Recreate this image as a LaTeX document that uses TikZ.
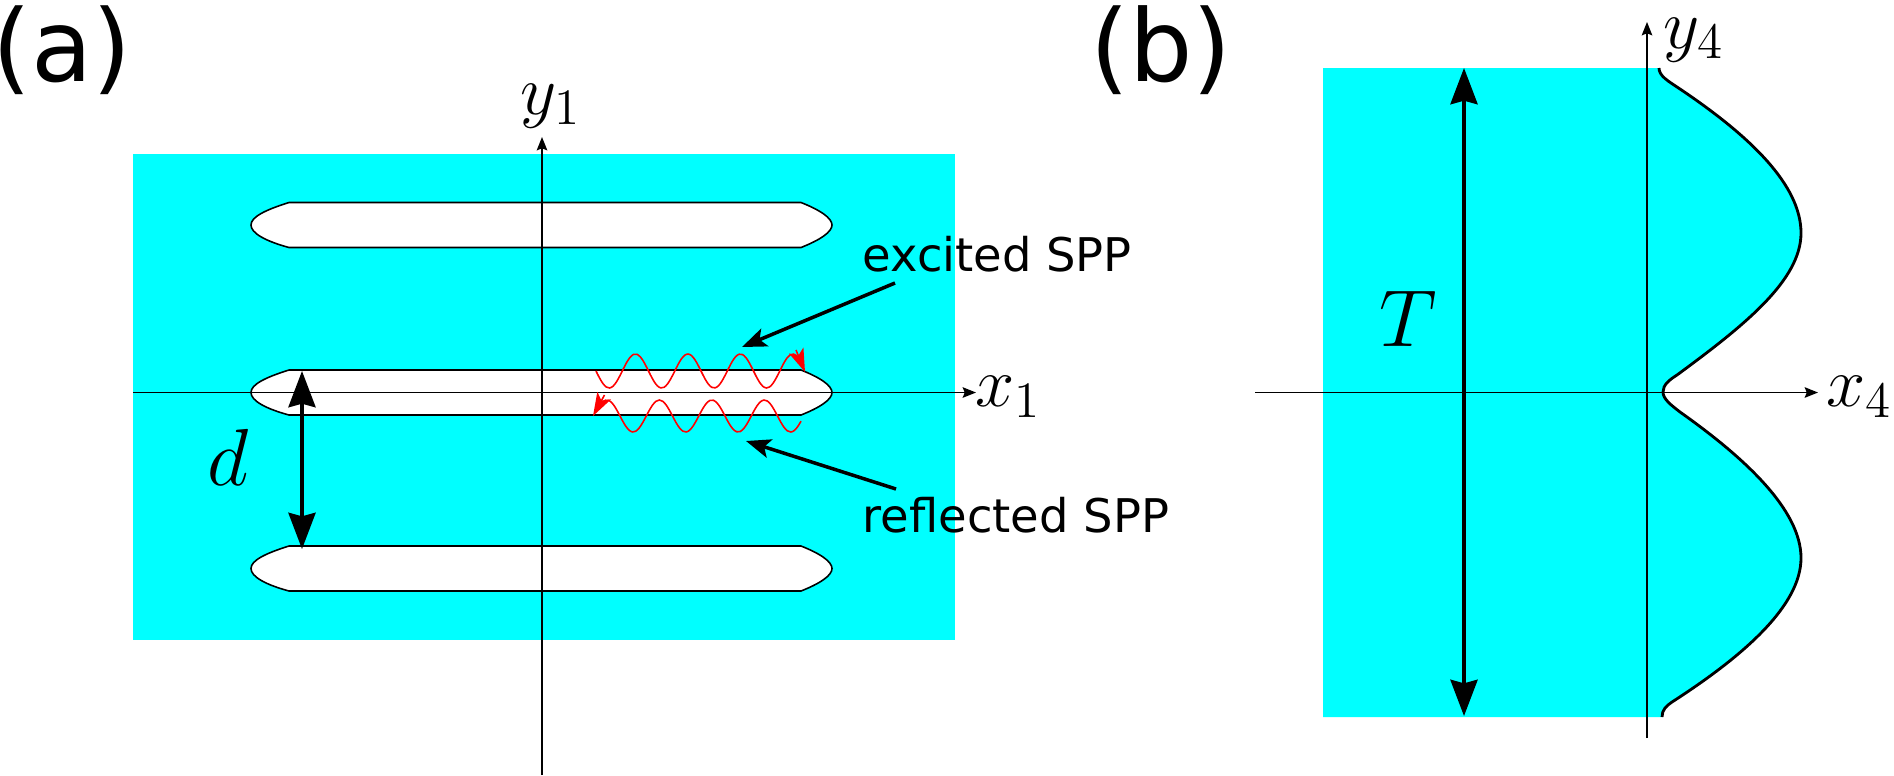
\documentclass[tikz,border=0pt]{standalone}
\usepackage{fix-cm}
\usepackage{xcolor}
\usepackage{fontspec}
\setmainfont{DejaVu Sans}
\usetikzlibrary{arrows.meta}
\definecolor{metal}{RGB}{0,255,255}
\DeclareMathSizes{20}{20}{14.5}{10}
\DeclareMathSizes{23}{23}{17}{12}
\tikzset{
	axis/.style={line width=0.45pt,-{Stealth[length=3.8pt,width=3pt,inset=0.6pt]}},
	slit/.style={draw=black,fill=white,line width=0.45pt},
	wave/.style={red,line width=0.45pt},
	wavetip/.style={red,line width=0.45pt,-{Stealth[length=6.6pt,width=4.4pt,inset=1.6pt]}},
	leader/.style={line width=1pt,-{Stealth[length=7pt,width=5.4pt,inset=1.6pt]}},
	span/.style={line width=1pt,{Stealth[length=10.3pt,width=7.7pt,inset=1pt]}-{Stealth[length=10.3pt,width=7.7pt,inset=1pt]}},
	panel/.style={inner sep=0pt,font=\fontsize{28.4}{33}\selectfont},
	spp/.style={inner sep=0pt,anchor=west,font=\fontsize{13.2}{16}\selectfont},
	coordlabel/.style={inner sep=0pt,font=\fontsize{20}{24}\selectfont},
	sizelabel/.style={inner sep=0pt,font=\fontsize{23}{27}\selectfont},
	waist/.style={insert path={
		(1659,68) .. controls (1659,76) and (1668,81) .. (1680,89)
		.. controls (1750,136) and (1801,185) .. (1801,233)
		.. controls (1801,280) and (1745,325) .. (1677,375)
		.. controls (1669,380) and (1663,385) .. (1663,392)
		.. controls (1663,399) and (1671,405) .. (1680,412)
		.. controls (1745,458) and (1801,510) .. (1801,558)
		.. controls (1801,605) and (1745,655) .. (1672,702)
		.. controls (1666,706) and (1662,710) .. (1662,717)}},
}
\begin{document}
\begin{tikzpicture}[x=0.01cm,y=-0.01cm]
	\useasboundingbox (0,0) rectangle (1894,775);

	% (a)
	\fill[metal] (133,154) rectangle (955,640);
	\foreach \cy in {225,392.5,568.5}
		\draw[slit,shift={(0,\cy)}] (289,-22.5) -- (801,-22.5)
			.. controls (820,-15) and (832,-7) .. (832,0)
			.. controls (832,7) and (820,15) .. (801,22.5)
			-- (289,22.5)
			.. controls (265,16) and (251,8) .. (251,0)
			.. controls (251,-8) and (265,-15) .. (289,-22.5) -- cycle;

	\coordinate (xa0) at (133,392.5);
	\coordinate (xa1) at (976,392.5);
	\coordinate (ya0) at (542,775);
	\coordinate (ya1) at (542,137);
	\draw[axis] (xa0) -- (xa1);
	\draw[axis] (ya0) -- (ya1);

	\draw[domain=596:797,smooth,samples=60,variable=\x,wave] plot ({\x},{371+17*sin((\x-596)/52.5*360)});
	\draw[domain=602:801,smooth,samples=60,variable=\x,wave] plot ({\x},{416+16*sin((\x-620)/52.5*360)});
	\coordinate (exc0) at (796,350);
	\coordinate (exc1) at (805,372);
	\coordinate (ref0) at (604.5,395);
	\coordinate (ref1) at (593,416);
	\draw[wavetip] (exc0) -- (exc1);
	\draw[wavetip] (ref0) -- (ref1);

	\coordinate (da) at (302,371);
	\coordinate (db) at (302,549);
	\draw[span] (da) -- (db);

	\node[spp] (excited) at (862,254) {excited SPP};
	\node[spp] (reflected) at (862,515) {reflected SPP};
	\coordinate (exctail) at (895,283);
	\coordinate (exchead) at (742,347);
	\coordinate (reftail) at (896,489);
	\coordinate (refhead) at (746,441);
	\draw[leader] (exctail) -- (exchead);
	\draw[leader] (reftail) -- (refhead);

	\node[panel] (a) at (62,50) {(a)};
	\node[coordlabel] (xalabel) at (1008,397) {$x_{1}$};
	\node[coordlabel] (yalabel) at (551,106) {$y_{1}$};
	\node[sizelabel] (dlabel) at (228,457) {$d$};

	% (b)
	\fill[metal] [waist] -- (1323,717) -- (1323,68) -- cycle;
	\draw[line width=0.8pt,waist];

	\coordinate (xb0) at (1255,392.5);
	\coordinate (xb1) at (1818,392.5);
	\coordinate (yb0) at (1647,738);
	\coordinate (yb1) at (1647,22);
	\draw[axis] (xb0) -- (xb1);
	\draw[axis] (yb0) -- (yb1);

	\coordinate (ta) at (1464,68);
	\coordinate (tb) at (1464,716);
	\draw[span] (ta) -- (tb);

	\node[panel] (b) at (1161,50) {(b)};
	\node[coordlabel] (xblabel) at (1859,397) {$x_{4}$};
	\node[coordlabel] (yblabel) at (1694,40) {$y_{4}$};
	\node[sizelabel] (tlabel) at (1408,319) {$T$};
\end{tikzpicture}
\end{document}
